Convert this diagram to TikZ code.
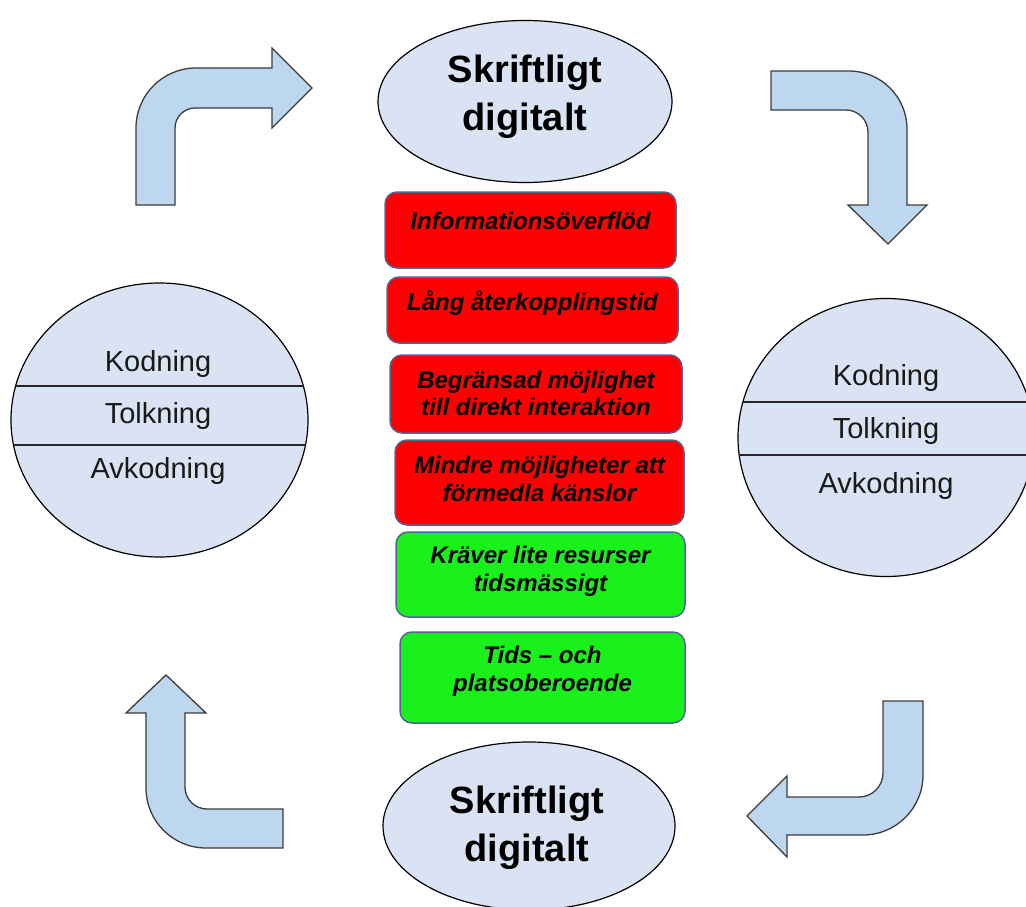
\documentclass[tikz,border=0pt]{standalone}
\usepackage{fontspec}
\setmainfont{Liberation Sans}
\usetikzlibrary{shapes.geometric}
\definecolor{ellfill}{RGB}{218,227,243}
\definecolor{arrfill}{RGB}{189,215,238}
\definecolor{arrline}{RGB}{60,60,60}
\definecolor{boxline}{RGB}{85,100,150}
\definecolor{redbox}{RGB}{255,0,0}
\definecolor{greenbox}{RGB}{26,240,26}
\begin{document}
\begin{tikzpicture}[x=1pt,y=-1pt,
 ell/.style={ellipse, draw=black, line width=1.2pt, fill=ellfill, inner sep=0pt, outer sep=0pt},
 title/.style={anchor=base, inner sep=0pt, font=\bfseries\fontsize{38}{46}\selectfont},
 part/.style={anchor=base, inner sep=0pt, text=black!90, font=\fontsize{29}{34}\selectfont},
 divider/.style={draw=black!85, line width=1.2pt},
 box/.style={rectangle, rounded corners=12pt, draw=boxline, line width=1.5pt, inner sep=0pt, outer sep=0pt},
 bad/.style={box, fill=redbox},
 good/.style={box, fill=greenbox},
 boxtext/.style={anchor=base, inner sep=0pt, font=\bfseries\itshape\fontsize{24}{28}\selectfont},
 bentarrow/.style={draw=arrline, line width=1.3pt, fill=arrfill, line join=miter}]
\clip (0,0) rectangle (1026,907);
\fill[white] (0,0) rectangle (1026,907);

% ellipses
\node[ell, minimum width=294pt, minimum height=162pt] (top) at (525,101.5) {};
\node[ell, minimum width=292pt, minimum height=168pt] (bot) at (529,826) {};
\node[title] (topa) at (525,82) {Skriftligt};
\node[title] (topb) at (525,130) {digitalt};
\node[title] (bota) at (527,813) {Skriftligt};
\node[title] (botb) at (527,861) {digitalt};

% left circle
\node[ell, minimum width=297pt, minimum height=274pt] (lc) at (159.5,420) {};
\begin{scope}
  \clip (159.5,420) ellipse [x radius=148.5, y radius=137];
  \draw[divider] (0,386) -- (330,386);
  \draw[divider] (0,445) -- (330,445);
\end{scope}
\node[part] (lk) at (158,371) {Kodning};
\node[part] (lt) at (158,423) {Tolkning};
\node[part] (la) at (158,478) {Avkodning};

% right circle
\node[ell, minimum width=296pt, minimum height=278pt] (rc) at (886,437.5) {};
\begin{scope}
  \clip (886,437.5) ellipse [x radius=148, y radius=139];
  \draw[divider] (720,402) -- (1040,402);
  \draw[divider] (720,455) -- (1040,455);
\end{scope}
\node[part] (rk) at (886,385) {Kodning};
\node[part] (rt) at (886,438) {Tolkning};
\node[part] (ra) at (886,493) {Avkodning};

% boxes
\node[bad, minimum width=291pt, minimum height=76pt] (b1) at (530.5,230) {};
\node[bad, minimum width=291pt, minimum height=66pt] (b2) at (532.5,310) {};
\node[bad, minimum width=292pt, minimum height=78pt] (b3) at (536,394) {};
\node[bad, minimum width=289pt, minimum height=85pt] (b4) at (539.5,482.5) {};
\node[good, minimum width=289pt, minimum height=85pt] (b5) at (540.5,574.5) {};
\node[good, minimum width=285pt, minimum height=91pt] (b6) at (542.5,677.5) {};

\node[boxtext] (t1) at (530.5,229) {Informationsöverflöd};
\node[boxtext] (t2) at (532.5,310) {Lång återkopplingstid};
\node[boxtext] (t3a) at (536,388) {Begränsad möjlighet};
\node[boxtext] (t3b) at (536,415.5) {till direkt interaktion};
\node[boxtext] (t4a) at (539.5,473) {Mindre möjligheter att};
\node[boxtext] (t4b) at (539.5,501) {förmedla känslor};
\node[boxtext] (t5a) at (540.5,563) {Kräver lite resurser};
\node[boxtext] (t5b) at (540.5,591) {tidsmässigt};
\node[boxtext] (t6a) at (542.5,663) {Tids – och};
\node[boxtext] (t6b) at (542.5,691.5) {platsoberoende};

% bent arrows
\path[bentarrow] (136,205) -- (136,128) .. controls (136,94.9) and (162.9,68) .. (196,68)
  -- (272,68) -- (272,48) -- (312,88) -- (272,128) -- (272,108) -- (195,108)
  .. controls (184,108) and (175,117) .. (175,128) -- (175,205) -- cycle;
\path[bentarrow] (771,71) -- (849,71) .. controls (881,71) and (907,97) .. (907,129)
  -- (907,205) -- (927,205) -- (888,244) -- (848,205) -- (868,205) -- (868,132)
  .. controls (868,120) and (858,110) .. (846,110) -- (771,110) -- cycle;
\path[bentarrow] (166,675) -- (206,713) -- (185,713) -- (185,787)
  .. controls (185,799.2) and (194.8,809) .. (207,809) -- (283,809) -- (283,848)
  -- (206,848) .. controls (172.9,848) and (146,821.1) .. (146,788) -- (146,713)
  -- (126,713) -- cycle;
\path[bentarrow] (923,701) -- (923,775) .. controls (923,808.1) and (896.1,835) .. (863,835)
  -- (787,835) -- (787,857) -- (747,816) -- (787,776) -- (787,797) -- (859,797)
  .. controls (872.3,797) and (883,786.3) .. (883,773) -- (883,701) -- cycle;
\end{tikzpicture}
\end{document}
